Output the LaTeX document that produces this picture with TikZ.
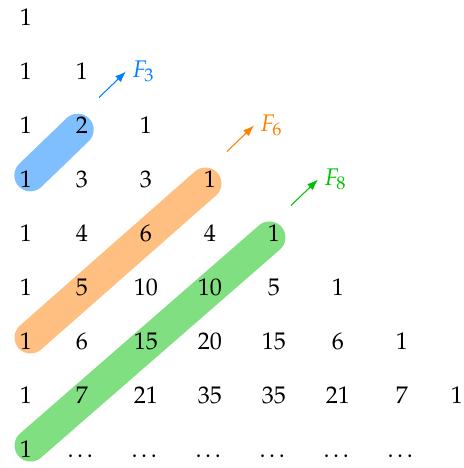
\documentclass[tikz,border=0pt]{standalone}
\usepackage[T1]{fontenc}
\usepackage{mathpazo}
\usepackage{xcolor}
\usetikzlibrary{arrows.meta,calc,backgrounds}
\definecolor{fibblue}{HTML}{0080FF}
\definecolor{fiborange}{HTML}{FF8000}
\definecolor{fibgreen}{HTML}{00C000}
\tikzset{
  num/.style={inner sep=0pt,text height=9.5pt,text depth=0pt,font=\fontsize{13.7}{16}\selectfont},
  band/.style={draw=#1!50,line width=0.64cm,line cap=round,shorten <=0.12cm,shorten >=0.12cm},
  fibarrow/.style={-{Latex[length=2.2mm]},line width=0.6pt,draw=#1},
  fiblabel/.style={anchor=west,text=#1,font=\fontsize{13.7}{16}\selectfont}
}
\def\colx{{26,82,146,210,274,338,402,457}}
\begin{document}
\begin{tikzpicture}[x=0.02cm,y=-0.02cm]
        \useasboundingbox (0,0) rectangle (464,468);
        % rows of the triangle
        \foreach \vals [count=\r] in {{1},{1,1},{1,2,1},{1,3,3,1},{1,4,6,4,1},{1,5,10,10,5,1},{1,6,15,20,15,6,1},{1,7,21,35,35,21,7,1},{1,\dots,\dots,\dots,\dots,\dots,\dots}}
          \foreach \v [count=\c] in \vals {
            \pgfmathsetmacro\xx{\colx[\c-1]}
            \node[num] (n-\r-\c) at (\xx,{17.5+54*(\r-1)}) {\v};
          }
        % shallow diagonals
        \begin{pgfonlayer}{background}
          \draw[band=fibblue] (n-4-1.center) -- (n-3-2.center);
          \draw[band=fiborange] (n-7-1.center) -- (n-4-4.center);
          \draw[band=fibgreen] (n-9-1.center) -- (n-5-5.center);
        \end{pgfonlayer}
        % sums
        \node[fiblabel=fibblue] (f3) at ($(n-3-2)+(44,-54)$) {$F_3$};
        \node[fiblabel=fiborange] (f6) at ($(n-4-4)+(44,-54)$) {$F_6$};
        \node[fiblabel=fibgreen] (f8) at ($(n-5-5)+(44,-54)$) {$F_8$};
        \coordinate (s3) at ($(n-3-2)+(17,-28)$);
        \coordinate (s6) at ($(n-4-4)+(17,-28)$);
        \coordinate (s8) at ($(n-5-5)+(17,-28)$);
        \draw[fibarrow=fibblue] (s3) -- (f3.west);
        \draw[fibarrow=fiborange] (s6) -- (f6.west);
        \draw[fibarrow=fibgreen] (s8) -- (f8.west);
      \end{tikzpicture}
\end{document}
